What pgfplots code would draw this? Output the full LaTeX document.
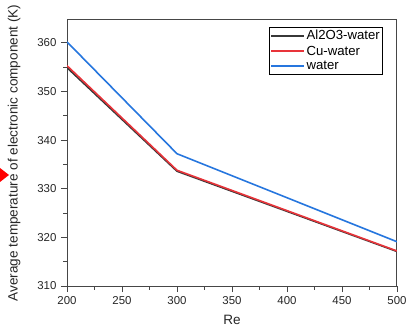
\documentclass[border=0pt]{standalone}
\usepackage{pgfplots}
\pgfplotsset{compat=1.18}
\usepackage{fontspec}
\setmainfont{Liberation Sans}
\definecolor{cblack}{RGB}{55,55,55}
\definecolor{cred}{RGB}{232,52,58}
\definecolor{cblue}{RGB}{38,118,222}
\definecolor{axgray}{RGB}{70,70,70}
\begin{document}
\begin{tikzpicture}
\useasboundingbox (0,0) rectangle (408bp,336bp);
% small red pointer on the left margin
\fill[red] (0bp,168bp) -- (9bp,161bp) -- (0bp,154bp) -- cycle;
\begin{axis}[
  at={(67bp,50bp)}, anchor=south west,
  width=330bp, height=266bp, scale only axis,
  xmin=200, xmax=500, ymin=310, ymax=364.7,
  xtick={200,250,...,500}, ytick={310,320,...,360},
  minor x tick num=1, minor y tick num=1,
  tick align=outside, tick pos=left,
  major tick length=6bp, minor tick length=3.5bp,
  every tick/.style={axgray, line width=0.8bp},
  axis line style={axgray, line width=1bp},
  /pgf/number format/assume math mode=true,
  ticklabel style={font=\fontsize{11.5}{13}\selectfont, text=black!85},
  xticklabel style={yshift=-1bp},
  yticklabel style={xshift=-1bp},
  xlabel={Re},
  ylabel={Average temperature of electronic component (K)},
  label style={font=\fontsize{13.6}{15}\selectfont, text=black!85},
  xlabel style={at={(axis description cs:0.5,-0.128)}, anchor=center},
  ylabel style={at={(axis description cs:-0.160,0.5)}, anchor=center},
  legend style={at={(axis description cs:0.958,0.974)}, anchor=north east,
    draw=black, line width=0.8bp, font=\fontsize{13.2}{15}\selectfont,
    inner sep=1.5bp, row sep=1.5bp, cells={anchor=west},
    nodes={inner sep=1.5bp}},
  legend image code/.code={\draw[#1, line width=1.6bp] (0bp,0bp) -- (33bp,0bp);},
]
\addplot[cblack, line width=1.6bp] coordinates {(200,354.9) (300,333.6) (500,317.1)};
\addlegendentry{Al2O3-water}
\addplot[cred, line width=1.6bp] coordinates {(200,355.3) (300,333.8) (500,317.2)};
\addlegendentry{Cu-water}
\addplot[cblue, line width=1.6bp] coordinates {(200,360.2) (300,337.2) (500,319.1)};
\addlegendentry{water}
\end{axis}
\end{tikzpicture}
\end{document}
